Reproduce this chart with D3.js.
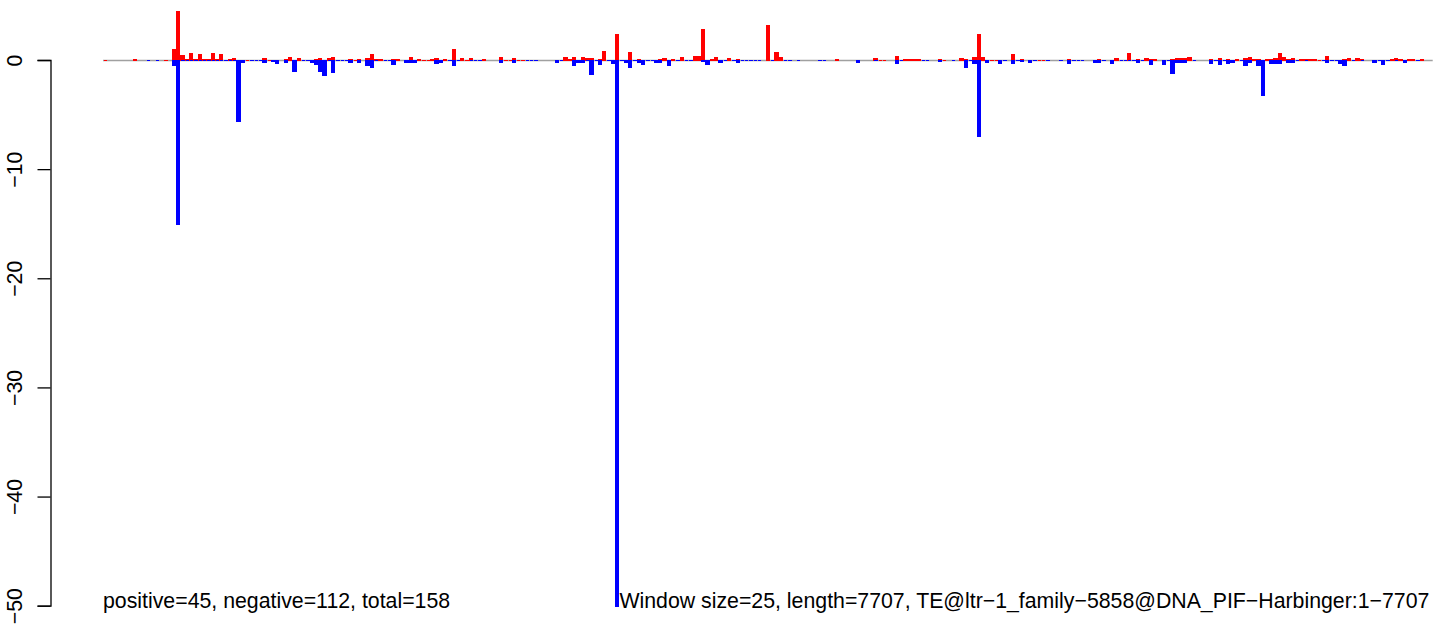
<!DOCTYPE html>
<html>
<head>
<meta charset="utf-8">
<script src="https://cdn.jsdelivr.net/npm/d3@7"></script>
<style>
  html, body { margin: 0; padding: 0; background: #ffffff; }
  svg { display: block; }
  text { font-family: "Liberation Sans", Arial, Helvetica, sans-serif; fill: #000; }
</style>
</head>
<body>
<svg id="chart" width="1444" height="630"></svg>
<script>
const _ = null;
// per-window values (window size 25, 309 windows); null = no bar
const posValues = [
  0,_,_,_,_,_,_,0.12,_,_,_,_,_,_,0,_,1.04,4.53,0.49,0.12,
  0.67,0.12,0.58,0.12,0.12,0.67,0.12,0.58,0,0.12,0.2,_,_,0,_,_,_,0.2,0,_,
  _,_,0.12,0.3,_,0.2,_,_,_,0.12,0.2,_,0.2,0.3,_,_,_,0.12,0,0.12,
  _,0.2,0.58,0.12,0.12,_,_,0.12,0.12,_,_,0.3,_,0.12,0,0,0.12,0.2,_,0.12,
  _,1.04,_,0.2,0,0.2,_,_,0.12,_,_,_,0.3,0,0,0.2,0,0,_,_,
  _,_,_,_,_,_,_,0.3,0.12,0.3,_,0.3,0.15,0.2,_,0.12,0.86,_,_,2.42,
  _,_,0.76,_,0.12,_,_,_,_,0.12,0.2,_,0.12,_,0.3,_,_,0.4,0.4,2.87,
  _,0.12,0.3,_,_,0.2,_,0.12,_,_,_,_,_,_,3.24,_,0.76,0.3,_,_,
  _,_,_,_,_,_,_,_,_,_,0.12,_,_,_,_,_,_,_,_,0.2,
  0,0,_,_,0.4,_,0.12,0.12,0.12,0.12,_,_,_,_,0.12,0,_,_,_,0.2,
  0.12,_,0.3,2.42,0.3,_,0,0,_,_,_,0.58,_,0.12,_,_,_,0,0,_,
  _,_,_,_,0.12,_,_,_,_,_,_,0.12,_,_,_,0.2,_,_,0.67,_,
  0.12,_,0.2,0.12,0.12,_,_,_,0.12,0.2,0.2,0.2,0.3,_,_,_,_,0.12,_,0.2,
  _,0.12,_,0.12,_,0.2,0.3,0.12,0.12,_,0.12,0.12,0.2,0.67,0.3,0.12,0.2,_,0.12,0.12,
  0.12,0.12,0,_,0.4,_,_,_,0.12,0.2,_,0.2,0.12,_,_,_,_,_,_,0.12,
  0.2,0.12,_,0.12,0.12,_,0.12,_,_
];
const negValues = [
  _,_,_,_,_,_,_,_,_,_,0,_,0,_,_,_,-0.49,-15,0,0,
  0,0,0,0,0,0,0,0,0,0,0,-5.6,-0.2,_,0,0,0,-0.22,_,-0.07,
  -0.25,_,-0.15,_,-0.98,_,0,0,-0.15,-0.33,-0.98,-1.35,0,-1.07,0,0,0,-0.15,_,-0.15,
  _,-0.5,-0.6,0,_,0,0,-0.33,_,_,-0.15,-0.15,-0.15,_,_,_,_,-0.25,-0.15,_,
  0,-0.43,0,_,_,0,0,0,_,_,_,_,-0.15,_,_,-0.15,_,_,0,0,
  0,_,_,_,_,-0.15,0,_,_,-0.43,-0.15,-0.15,0,-1.25,0,-0.33,_,0,-0.25,-50,
  0,-0.15,-0.6,0,-0.15,-0.33,0,0,-0.15,-0.15,_,-0.5,_,0,_,0,0,_,_,-0.07,
  -0.33,_,_,-0.15,0,_,0,-0.15,0,0,0,0,0,_,_,0,_,_,0,0,
  _,0,_,_,_,_,0,0,_,_,_,_,_,_,_,-0.15,_,_,_,0,
  _,_,_,_,-0.25,0,_,_,_,_,0,0,_,_,-0.07,_,_,0,_,_,
  -0.6,0,-0.25,-7,_,-0.15,_,_,-0.25,0,_,-0.25,0,-0.07,_,-0.15,0,_,_,0,
  _,_,0,_,-0.25,0,0,0,_,_,-0.15,-0.15,0,_,-0.25,_,0,0,0,0,
  -0.15,0,_,-0.33,_,_,-0.33,0,-1.16,-0.15,-0.15,-0.15,_,0,_,_,_,-0.25,0,-0.33,
  0,-0.25,-0.15,_,0,-0.5,-0.15,_,-0.5,-3.2,_,-0.25,-0.25,-0.25,_,-0.15,-0.15,0,_,0,
  _,_,_,0,-0.15,0,0,-0.25,-0.43,_,0,_,0,_,_,-0.15,0,-0.33,0,_,
  0,_,-0.15,_,_,0,_,_,_
];
const yTicks = [0, -10, -20, -30, -40, -50];
const nWindows = 309;
const labelLeft = "positive=45, negative=112, total=158";
const labelRight = "Window size=25, length=7707, TE@ltr\u22121_family\u22125858@DNA_PIF\u2212Harbinger:1\u22127707";
const labelRightAt = 120; // window index where the right-hand note starts

const svg = d3.select("#chart");
const x = d3.scaleLinear().domain([0, nWindows]).range([103, 1432.7]);
const y = d3.scaleLinear().domain([0, -50]).range([60, 605.7]);

// zero line
svg.append("line")
  .attr("x1", x(0)).attr("x2", x(nWindows))
  .attr("y1", y(0) + 0.5).attr("y2", y(0) + 0.5)
  .attr("stroke", "#a0a0a0").attr("stroke-width", 1.4);

function barPath(i, v) {
  const x0 = Math.round(x(i)) + 0.5, x1 = Math.round(x(i + 1)) - 0.5;
  const y0 = Math.round(y(0)) + 0.5, y1 = Math.round(y(v)) + 0.5;
  return `M${x0},${y0}H${x1}V${y1}H${x0}Z`;
}

const posData = posValues.map((v, i) => ({ i, v })).filter(d => d.v !== null);
const negData = negValues.map((v, i) => ({ i, v })).filter(d => d.v !== null);

svg.append("g").selectAll("path").data(posData).join("path")
  .attr("d", d => barPath(d.i, d.v))
  .attr("fill", "#ff0000").attr("stroke", "#ff0000").attr("stroke-width", 1)
  .attr("shape-rendering", "crispEdges");

svg.append("g").selectAll("path").data(negData).join("path")
  .attr("d", d => barPath(d.i, d.v))
  .attr("fill", "#0000ff").attr("stroke", "#0000ff").attr("stroke-width", 1)
  .attr("shape-rendering", "crispEdges");

// y axis
const axis = d3.axisLeft(y).tickValues(yTicks).tickSizeOuter(0).tickSize(13).tickPadding(4)
  .tickFormat(d => d === 0 ? "0" : "\u2212" + Math.abs(d));
const gAxis = svg.append("g").attr("transform", "translate(50.5,0)").call(axis);
gAxis.select(".domain").attr("stroke", "#000").attr("stroke-width", 1.3);
gAxis.selectAll(".tick line").attr("stroke", "#000").attr("stroke-width", 1.3);
gAxis.selectAll(".tick text")
  .attr("font-size", 21.3)
  .attr("font-family", "Liberation Sans, Arial, sans-serif")
  .attr("text-anchor", "middle")
  .attr("x", 0).attr("dy", 0)
  .attr("transform", "translate(-29,0) rotate(-90)");

// notes
svg.append("text").attr("x", x(0)).attr("y", 608.3)
  .attr("font-size", 21.3).text(labelLeft);
svg.append("text").attr("x", x(labelRightAt)).attr("y", 608.3)
  .attr("font-size", 21.3).text(labelRight);
</script>
</body>
</html>
